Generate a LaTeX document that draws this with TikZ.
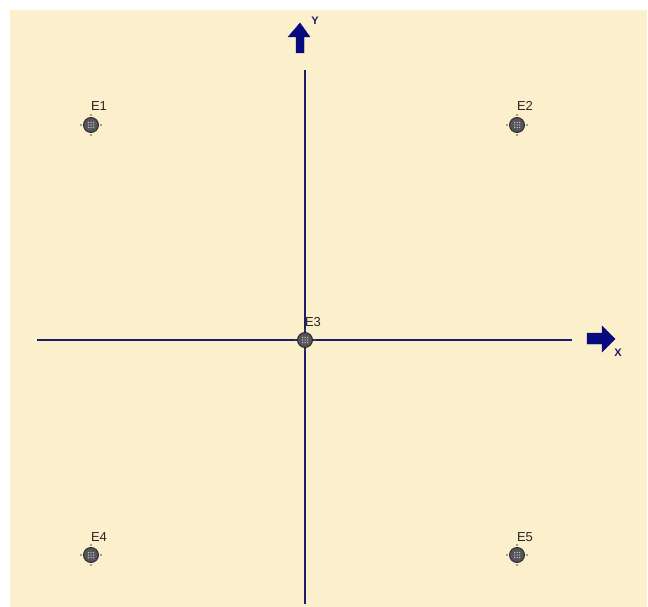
\documentclass[tikz,border=0pt]{standalone}
\usepackage{fontspec}
\setmainfont{Liberation Sans}
\begin{document}
\begin{tikzpicture}[x=1pt,y=-1pt,
  axis/.style={draw=axisblue,line width=1.2pt},
  blockarrow/.style={fill=arrowblue,draw=arrowblue,line width=0.4pt,line join=miter},
  pt/.style={circle,minimum size=15pt,inner sep=0pt,fill=ptgray,draw=black!85,line width=0.9pt},
  lbl/.style={font=\fontsize{13}{13}\selectfont,text=black!85,inner sep=0pt,anchor=base},
  axlbl/.style={font=\fontsize{11}{11}\selectfont\bfseries,text=axisblue,inner sep=0pt}]
\definecolor{bg}{HTML}{FCEFCC}
\definecolor{axisblue}{HTML}{1E1E66}
\definecolor{arrowblue}{HTML}{0A0A80}
\definecolor{ptgray}{HTML}{55555A}
\useasboundingbox (0,0) rectangle (648,607);
\fill[white] (0,0) rectangle (648,607);
\fill[bg] (10,10) rectangle (647,607);
% axes
\coordinate (ytop) at (305,70);
\coordinate (ybot) at (305,604);
\coordinate (xl) at (37,340);
\coordinate (xr) at (572,340);
\draw[axis] (ytop) -- (ybot);
\draw[axis] (xl) -- (xr);
% Y block arrow
\fill[blockarrow] (296,53) -- (304,53) -- (304,37) -- (310,37) -- (300,23) -- (288,37) -- (296,37) -- cycle;
\node[axlbl] (ylab) at (315,21) {Y};
% X block arrow
\fill[blockarrow] (587,333) -- (602,333) -- (602,326) -- (615,339) -- (602,352) -- (602,344) -- (587,344) -- cycle;
\node[axlbl] (xlab) at (618,353) {X};
% points
\foreach \n/\x/\y in {E1/91/125,E2/517/125,E3/305/340,E4/91/555,E5/517/555}{
  \foreach \d in {-10,10}{
    \fill[black!70] (\x+\d,\y) circle (0.8pt);
    \fill[black!70] (\x,\y+\d) circle (0.8pt);
  }
  \node[pt] (\n) at (\x,\y) {};
  \foreach \i in {-2.5,0,2.5}{\foreach \j in {-2.5,0,2.5}{
    \fill[gray!50] (\x+\i,\y+\j) circle (0.75pt);
  }}
  \node[lbl] (\n lab) at (\x+8,\y-14) {\n};
}
\end{tikzpicture}
\end{document}
